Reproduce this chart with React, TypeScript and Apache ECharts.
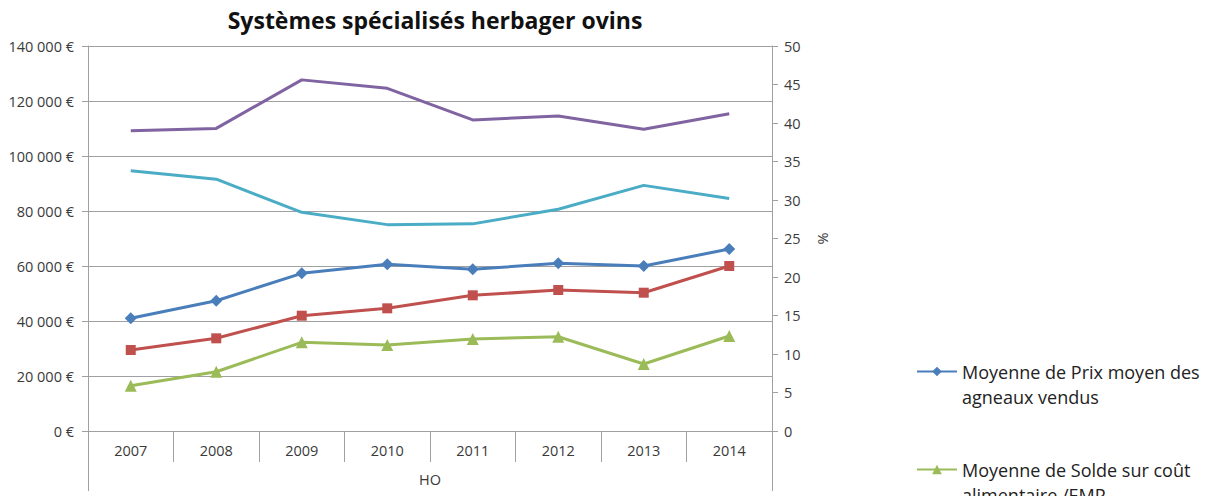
import React, { useEffect, useRef } from "react";
import * as echarts from "echarts";

const years = ["2007", "2008", "2009", "2010", "2011", "2012", "2013", "2014"];
const outerCategory = ["HO"];
const prixAgneaux = [40980, 47380, 57340, 60610, 58800, 60980, 60000, 66180];
const serieRouge = [29450, 33700, 41930, 44610, 49340, 51270, 50290, 60000];
const soldeCoutAlim = [16470, 21560, 32250, 31270, 33450, 34290, 24360, 34540];
const serieViolette = [39.0, 39.3, 45.6, 44.5, 40.4, 40.9, 39.2, 41.2];
const serieCyan = [33.8, 32.7, 28.4, 26.8, 26.9, 28.8, 31.9, 30.2];

const nameBlue = "Moyenne de Prix moyen des\nagneaux vendus";
const nameGreen = "Moyenne de Solde sur coût\nalimentaire /EMP";

const FONT = "'Open Sans', sans-serif";
const GRAY = "#a0a0a0";
const TXT = "#3a3a3a";

function fmtEuro(v: number): string {
  return String(v).replace(/\B(?=(\d{3})+(?!\d))/g, " ") + " €";
}

export default function App() {
  const ref = useRef<HTMLDivElement>(null);
  useEffect(() => {
    if (!ref.current) return;
    const chart = echarts.init(ref.current, undefined, { renderer: "svg" });
    chart.setOption({
      animation: false,
      backgroundColor: "#ffffff",
      textStyle: { fontFamily: FONT },
      title: {
        text: "Systèmes spécialisés herbager ovins",
        left: 430,
        textAlign: "center",
        top: 3,
        textStyle: { fontFamily: FONT, fontSize: 23, fontWeight: "bold", color: "#111" },
      },
      legend: {
        orient: "vertical",
        left: 911,
        top: 329,
        height: 400,
        itemWidth: 40,
        itemHeight: 12,
        itemGap: 23,
        data: [nameBlue, nameGreen],
        formatter: (name: string) => "\n" + name,
        textStyle: {
          fontFamily: FONT,
          fontSize: 18,
          color: "#222",
          lineHeight: 25,
        },
      },
      grid: { left: 88, right: 434, top: 46, bottom: 65, containLabel: false },
      xAxis: [
        {
          type: "category",
          position: "bottom",
          data: years,
          boundaryGap: true,
          axisLine: { show: true, lineStyle: { color: GRAY, width: 1 } },
          axisTick: { show: true, interval: 0, length: 31, lineStyle: { color: GRAY } },
          axisLabel: { margin: 12, fontSize: 14.5, color: TXT, fontFamily: FONT, interval: 0 },
        },
        {
          type: "category",
          position: "bottom",
          data: outerCategory,
          boundaryGap: true,
          axisLine: { show: false },
          axisTick: { show: true, interval: 0, length: 60, lineStyle: { color: GRAY } },
          axisLabel: { margin: 41, fontSize: 14.5, color: TXT, fontFamily: FONT },
        },
      ],
      yAxis: [
        {
          type: "value",
          position: "left",
          min: 0,
          max: 140000,
          interval: 20000,
          axisLine: { show: true, lineStyle: { color: GRAY } },
          axisTick: { show: true, length: 6, lineStyle: { color: GRAY } },
          splitLine: { show: true, lineStyle: { color: GRAY, width: 1 } },
          axisLabel: { formatter: fmtEuro, margin: 14, fontSize: 14.5, color: TXT, fontFamily: FONT },
        },
        {
          type: "value",
          position: "right",
          min: 0,
          max: 50,
          interval: 5,
          name: "%",
          nameLocation: "middle",
          nameRotate: -90,
          nameGap: 44,
          nameTextStyle: { fontSize: 14.5, color: TXT, fontFamily: FONT },
          axisLine: { show: true, lineStyle: { color: GRAY } },
          axisTick: { show: true, length: 6, lineStyle: { color: GRAY } },
          splitLine: { show: false },
          axisLabel: { margin: 12, fontSize: 14.5, color: TXT, fontFamily: FONT },
        },
      ],
      series: [
        {
          name: nameBlue,
          type: "line",
          xAxisIndex: 0,
          yAxisIndex: 0,
          data: prixAgneaux,
          symbol: "diamond",
          symbolSize: 12,
          lineStyle: { color: "#4A7EBB", width: 3 },
          itemStyle: { color: "#4A7EBB" },
        },
        {
          name: "Série 2",
          type: "line",
          xAxisIndex: 0,
          yAxisIndex: 0,
          data: serieRouge,
          symbol: "rect",
          symbolSize: 10,
          lineStyle: { color: "#C0504D", width: 3 },
          itemStyle: { color: "#C0504D" },
        },
        {
          name: nameGreen,
          type: "line",
          xAxisIndex: 0,
          yAxisIndex: 0,
          data: soldeCoutAlim,
          symbol: "triangle",
          symbolSize: 12,
          lineStyle: { color: "#9BBB59", width: 3 },
          itemStyle: { color: "#9BBB59" },
        },
        {
          name: "Série 4",
          type: "line",
          xAxisIndex: 0,
          yAxisIndex: 1,
          data: serieViolette,
          symbol: "none",
          lineStyle: { color: "#8064A2", width: 3 },
          itemStyle: { color: "#8064A2" },
        },
        {
          name: "Série 5",
          type: "line",
          xAxisIndex: 0,
          yAxisIndex: 1,
          data: serieCyan,
          symbol: "none",
          lineStyle: { color: "#4BACC6", width: 3 },
          itemStyle: { color: "#4BACC6" },
        },
      ],
    });
    return () => chart.dispose();
  }, []);
  return <div ref={ref} style={{ width: 1206, height: 496, position: "absolute", left: 0, top: 0 }} />;
}
